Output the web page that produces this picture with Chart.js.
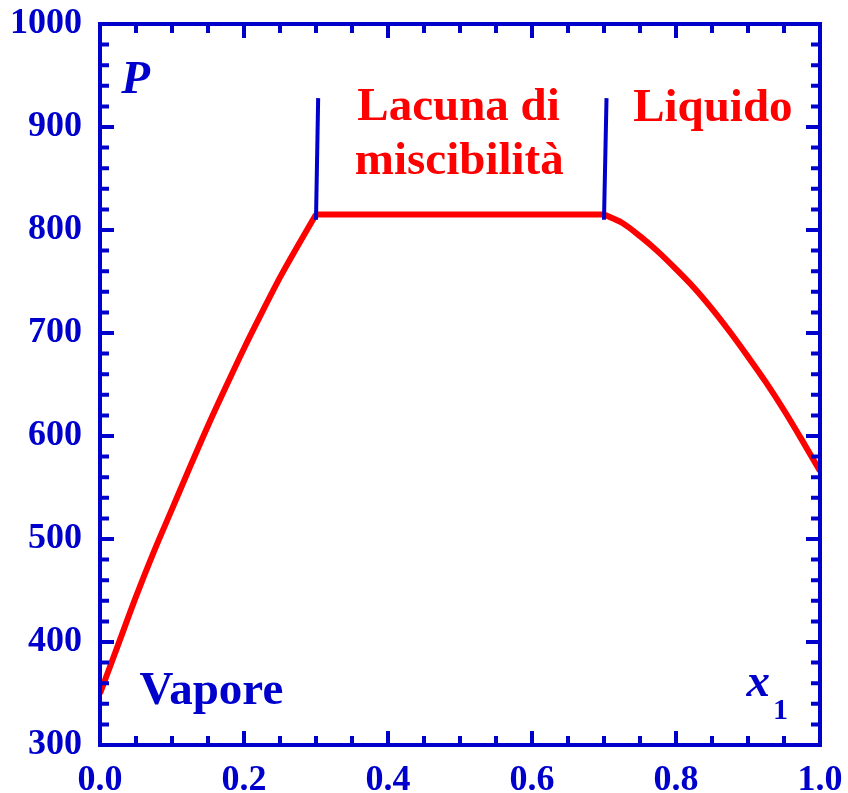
<!DOCTYPE html>
<html>
<head>
<meta charset="utf-8">
<script src="https://cdn.jsdelivr.net/npm/chart.js@4"></script>
<style>
  html, body { margin: 0; padding: 0; background: #ffffff; }
  canvas { display: block; }
</style>
</head>
<body>
<canvas id="diagramma" width="848" height="793"></canvas>
<script>
// curva del vapore (rugiada), da x1 = 0 fino all'inizio della lacuna
const xVapore = [0, 0.025, 0.05, 0.075, 0.1, 0.125, 0.15, 0.175, 0.2, 0.225, 0.25, 0.275, 0.3];
const pVapore = [350, 397, 444, 488, 529, 570, 610, 648, 685, 720, 754, 785, 815];

// tratto orizzontale della lacuna di miscibilità
const xLacuna = [0.3, 0.7];
const pLacuna = [815, 815];

// curva del liquido
const xLiquido = [0.7, 0.725, 0.75, 0.775, 0.8, 0.825, 0.85, 0.875, 0.9, 0.925, 0.95, 0.975, 1.0];
const pLiquido = [815, 807, 794, 779, 762, 744, 723.5, 701, 677, 652, 625, 596, 566];

// segmenti verticali ai bordi della lacuna
const xBordoSx = [0.300, 0.303];
const pBordoSx = [810, 928];
const xBordoDx = [0.700, 0.7035];
const pBordoDx = [810, 928];

const xTickLabels = ['0.0', '0.2', '0.4', '0.6', '0.8', '1.0'];
const yTickLabels = ['300', '400', '500', '600', '700', '800', '900', '1000'];

const BLU = '#0000cc';
const ROSSO = '#ff0000';
const SERIF = '"Liberation Serif", "Times New Roman", serif';

function punti(xs, ys) {
    return xs.map((x, i) => ({ x: x, y: ys[i] }));
}

// cornice con tacche verso l'interno su tutti e quattro i lati
const cornice = {
    id: 'cornice',
    afterDatasetsDraw(chart) {
        const { ctx, chartArea: a, scales } = chart;
        const sx = scales.x, sy = scales.y;
        ctx.save();
        ctx.strokeStyle = BLU;
        ctx.lineWidth = 4;
        ctx.lineCap = 'butt';
        ctx.beginPath();
        for (let i = 0; i <= 20; i++) {
            const px = sx.getPixelForValue(i * 0.05);
            const len = i % 4 === 0 ? 14 : 9;
            ctx.moveTo(px, a.bottom); ctx.lineTo(px, a.bottom - len);
            ctx.moveTo(px, a.top); ctx.lineTo(px, a.top + len);
        }
        for (let i = 0; i <= 35; i++) {
            const py = sy.getPixelForValue(300 + i * 20);
            const len = i % 5 === 0 ? 14 : 9;
            ctx.moveTo(a.left, py); ctx.lineTo(a.left + len, py);
            ctx.moveTo(a.right, py); ctx.lineTo(a.right - len, py);
        }
        ctx.stroke();
        ctx.lineJoin = 'miter';
        ctx.strokeRect(a.left, a.top, a.right - a.left, a.bottom - a.top);
        ctx.restore();
    }
};

// scritte dentro il grafico
const scritte = {
    id: 'scritte',
    afterDraw(chart) {
        const { ctx, scales } = chart;
        const X = v => scales.x.getPixelForValue(v);
        const Y = v => scales.y.getPixelForValue(v);
        ctx.save();
        ctx.textBaseline = 'alphabetic';

        ctx.fillStyle = BLU;
        ctx.textAlign = 'left';
        ctx.font = 'italic bold 47px ' + SERIF;
        ctx.fillText('P', X(0.0296), Y(933));
        ctx.fillText('x', X(0.898), Y(348));
        ctx.font = 'bold 30px ' + SERIF;
        ctx.fillText('1', X(0.9347), Y(325));
        ctx.font = 'bold 47px ' + SERIF;
        ctx.fillText('Vapore', X(0.055), Y(340));

        ctx.fillStyle = ROSSO;
        ctx.fillText('Liquido', X(0.7405), Y(906));
        ctx.textAlign = 'center';
        ctx.fillText('Lacuna di', X(0.498), Y(907));
        ctx.fillText('miscibilità', X(0.499), Y(854));
        ctx.restore();
    }
};

const lineaRossa = {
    borderColor: ROSSO,
    borderWidth: 6,
    pointRadius: 0,
    fill: false,
    cubicInterpolationMode: 'monotone',
    borderJoinStyle: 'round'
};
const lineaBlu = {
    borderColor: BLU,
    borderWidth: 4,
    pointRadius: 0,
    fill: false,
    tension: 0
};

new Chart(document.getElementById('diagramma').getContext('2d'), {
    type: 'line',
    data: {
        datasets: [
            Object.assign({ label: 'bordo sx', data: punti(xBordoSx, pBordoSx) }, lineaBlu),
            Object.assign({ label: 'bordo dx', data: punti(xBordoDx, pBordoDx) }, lineaBlu),
            Object.assign({ label: 'vapore', data: punti(xVapore, pVapore) }, lineaRossa),
            Object.assign({ label: 'lacuna', data: punti(xLacuna, pLacuna) }, lineaRossa),
            Object.assign({ label: 'liquido', data: punti(xLiquido, pLiquido) }, lineaRossa)
        ]
    },
    options: {
        responsive: false,
        animation: false,
        events: [],
        layout: { padding: { top: 24, right: 28, left: 0, bottom: 0 } },
        plugins: {
            legend: { display: false },
            tooltip: { enabled: false }
        },
        scales: {
            x: {
                type: 'linear',
                min: 0,
                max: 1,
                grid: { display: false, drawTicks: false },
                border: { display: false },
                ticks: {
                    stepSize: 0.2,
                    padding: 14,
                    color: BLU,
                    font: { family: SERIF, size: 36, weight: 'bold' },
                    callback: (v) => xTickLabels[Math.round(v / 0.2)]
                },
                afterFit: (s) => {
                    s.height = 48;
                    s.paddingLeft = 0;
                    s.paddingRight = 0;
                }
            },
            y: {
                type: 'linear',
                min: 300,
                max: 1000,
                grid: { display: false, drawTicks: false },
                border: { display: false },
                ticks: {
                    stepSize: 100,
                    padding: 18,
                    color: BLU,
                    font: { family: SERIF, size: 36, weight: 'bold' },
                    callback: (v) => yTickLabels[Math.round((v - 300) / 100)]
                },
                afterFit: (s) => {
                    s.width = 100;
                    s.paddingTop = 0;
                    s.paddingBottom = 0;
                }
            }
        }
    },
    plugins: [cornice, scritte]
});
</script>
</body>
</html>
